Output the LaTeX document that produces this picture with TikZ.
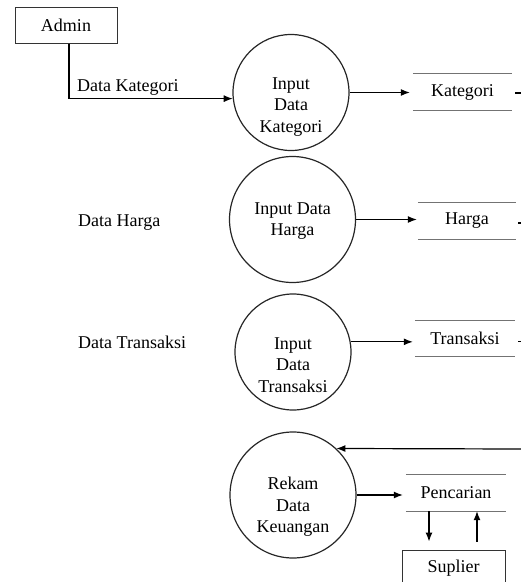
\documentclass[tikz,border=0pt]{standalone}
\usepackage{fontspec}
\setmainfont{Liberation Serif}
\usetikzlibrary{arrows.meta,calc}
\begin{document}
\begin{tikzpicture}[x=1pt,y=-1pt,
  lbl/.style={font=\fontsize{18}{21.5}\selectfont, inner sep=0pt, align=center},
  proc/.style={draw=black!85, line width=1.2pt, circle, inner sep=0pt},
  ent/.style={draw=black!80, line width=1pt, rectangle, inner sep=0pt},
  store/.style={rectangle, inner sep=0pt, minimum height=36pt},
  sline/.style={draw=black!55, line width=1.3pt},
  arr/.style={draw=black, line width=1.2pt, -{Latex[length=9pt,width=7pt]}},
  flow/.style={draw=black, line width=1.2pt}]
\useasboundingbox (0,0) rectangle (521,582);
\clip (0,0) rectangle (521,582);
\coordinate (edge) at (521,0);

% external entities
\node[ent, lbl, minimum width=102pt, minimum height=36pt] (admin) at (66,25) {Admin};
\node[ent, lbl, minimum width=103pt, minimum height=36pt] (sup) at (453.5,568) {Suplier};

% processes
\node[proc, minimum size=116pt] (c1) at (291,92.5) {};
\node[lbl] (t1) at (291,107) {Input\\Data\\Kategori};
\node[proc, minimum size=126pt] (c2) at (292.5,219.5) {};
\node[lbl] (t2) at (292.5,221) {Input Data\\Harga};
\node[proc, minimum size=116pt] (c3) at (293,352) {};
\node[lbl] (t3) at (293,365) {Input\\Data\\Transaksi};
\node[proc, minimum size=126pt] (c4) at (293,495) {};
\node[lbl] (t4) at (293,507) {Rekam\\Data\\Keuangan};

% data stores
\node[store, lbl, minimum width=99pt] (s1) at (462.5,92) {Kategori};
\node[store, lbl, minimum width=98pt] (s2) at (467,221) {Harga};
\node[store, lbl, minimum width=100pt] (s3) at (465,338.5) {Transaksi};
\node[store, lbl, minimum width=100pt] (s4) at (456,493) {Pencarian};
\foreach \s in {s1,s2,s3,s4}{
  \draw[sline] (\s.north west) -- (\s.north east) (\s.south west) -- (\s.south east);
}

% labels
\node[lbl, anchor=west] (l1) at (77,87) {Data Kategori};
\node[lbl, anchor=west] (l2) at (78,223) {Data Harga};
\node[lbl, anchor=west] (l3) at (78,342) {Data Transaksi};

% flows
\draw[arr] ([xshift=3pt]admin.south) -- ([xshift=3pt]admin.south |- c1.186) -- (c1.186);
\draw[arr, shorten >=3pt] (c1.east) -- (c1.east -| s1.west);
\draw[arr, shorten >=1pt] (c2.east) -- (c2.east -| s2.west);
\draw[arr, shorten >=2pt] (c3.10) -- (c3.10 -| s3.west);
\draw[arr, shorten >=3pt] (c4.east) -- (c4.east -| s4.west);
\coordinate (in4) at (521,449);
\draw[arr] (in4) -- (c4.47);

% fragments leaving the right edge
\draw[flow] ([xshift=3pt,yshift=-1pt]s1.east) -- ([yshift=-1pt]s1.east -| edge);
\draw[flow] ([xshift=2pt,yshift=-2pt]s2.east) -- ([yshift=-2pt]s2.east -| edge);
\draw[flow] ([xshift=3pt,yshift=-3pt]s3.east) -- ([yshift=-3pt]s3.east -| edge);

% Pencarian <-> Suplier
\draw[arr, shorten >=8pt] ([xshift=-27pt]s4.south) -- ([xshift=-27pt]s4.south |- sup.north);
\draw[arr, shorten <=8pt] ([xshift=21pt]s4.south |- sup.north) -- ([xshift=21pt]s4.south);
\end{tikzpicture}
\end{document}
